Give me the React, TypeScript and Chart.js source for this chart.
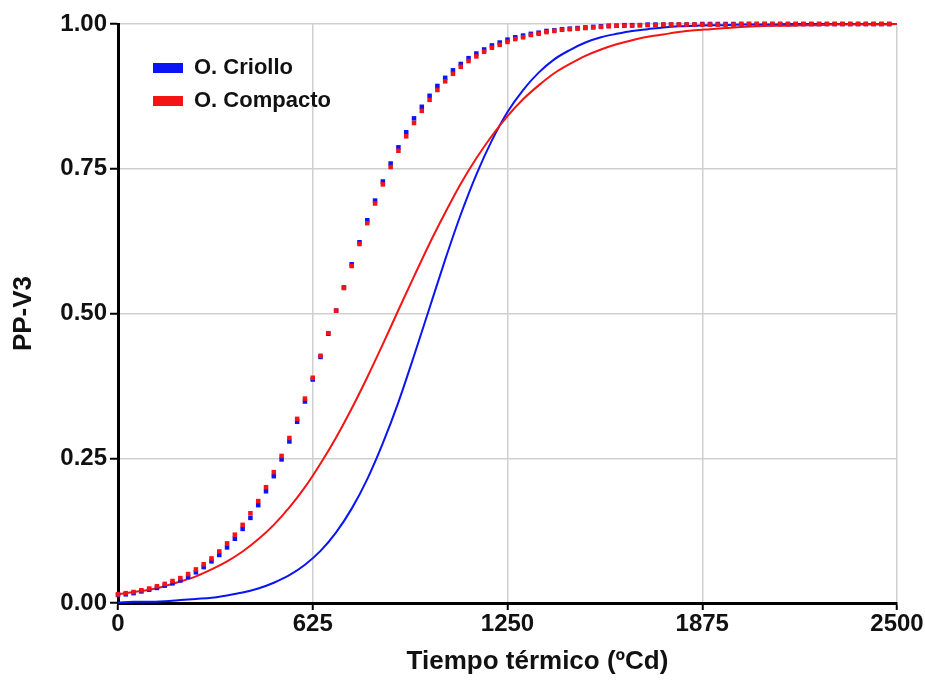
import React, { useEffect, useRef } from "react";
import { Chart, registerables } from "chart.js";

Chart.register(...registerables);

const FONT = '"Liberation Sans", Arial, Helvetica, sans-serif';

// Dotted series (every 25 °Cd)
const dotX = [
  0, 25, 50, 75, 100, 125, 150, 175, 200, 225,
  250, 275, 300, 325, 350, 375, 400, 425, 450, 475,
  500, 525, 550, 575, 600, 625, 650, 675, 700, 725,
  750, 775, 800, 825, 850, 875, 900, 925, 950, 975,
  1000, 1025, 1050, 1075, 1100, 1125, 1150, 1175, 1200, 1225,
  1250, 1275, 1300, 1325, 1350, 1375, 1400, 1425, 1450, 1475,
  1500, 1525, 1550, 1575, 1600, 1625, 1650, 1675, 1700, 1725,
  1750, 1775, 1800, 1825, 1850, 1875, 1900, 1925, 1950, 1975,
  2000, 2025, 2050, 2075, 2100, 2125, 2150, 2175, 2200, 2225,
  2250, 2275, 2300, 2325, 2350, 2375, 2400, 2425, 2450, 2475,
];
const dotRed = [
  0.015, 0.017, 0.019, 0.022, 0.025, 0.029, 0.033, 0.038, 0.043, 0.050,
  0.058, 0.067, 0.077, 0.089, 0.103, 0.118, 0.135, 0.155, 0.176, 0.200,
  0.226, 0.254, 0.285, 0.318, 0.353, 0.389, 0.427, 0.466, 0.505, 0.544,
  0.582, 0.620, 0.656, 0.690, 0.723, 0.753, 0.781, 0.806, 0.829, 0.850,
  0.869, 0.886, 0.901, 0.914, 0.926, 0.936, 0.944, 0.952, 0.959, 0.964,
  0.969, 0.974, 0.977, 0.981, 0.983, 0.986, 0.988, 0.990, 0.991, 0.992,
  0.993, 0.994, 0.995, 0.996, 0.997, 0.997, 0.997, 0.998, 0.998, 0.998,
  0.999, 0.999, 0.999, 0.999, 0.999, 0.999, 0.999, 0.999, 0.999, 0.999,
  1.0, 1.0, 1.0, 1.0, 1.0, 1.0, 1.0, 1.0, 1.0, 1.0,
  1.0, 1.0, 1.0, 1.0, 1.0, 1.0, 1.0, 1.0, 1.0, 1.0,
];
const dotBlue = [
  0.014, 0.015, 0.017, 0.020, 0.023, 0.026, 0.030, 0.034, 0.039, 0.045,
  0.053, 0.062, 0.072, 0.083, 0.096, 0.111, 0.128, 0.147, 0.169, 0.193,
  0.219, 0.248, 0.279, 0.313, 0.348, 0.386, 0.425, 0.465, 0.505, 0.545,
  0.585, 0.623, 0.661, 0.695, 0.728, 0.759, 0.787, 0.813, 0.837, 0.857,
  0.876, 0.893, 0.907, 0.920, 0.931, 0.941, 0.949, 0.956, 0.963, 0.968,
  0.973, 0.977, 0.980, 0.983, 0.985, 0.988, 0.989, 0.991, 0.992, 0.993,
  0.994, 0.995, 0.996, 0.997, 0.997, 0.998, 0.998, 0.998, 0.999, 0.999,
  0.999, 0.999, 0.999, 0.999, 0.999, 1.0, 1.0, 1.0, 1.0, 1.0,
  1.0, 1.0, 1.0, 1.0, 1.0, 1.0, 1.0, 1.0, 1.0, 1.0,
  1.0, 1.0, 1.0, 1.0, 1.0, 1.0, 1.0, 1.0, 1.0, 1.0,
];

// Solid curves (every 50 °Cd)
const solidX = [
  0, 50, 100, 150, 200, 250, 300, 350, 400, 450,
  500, 550, 600, 650, 700, 750, 800, 850, 900, 950,
  1000, 1050, 1100, 1150, 1200, 1250, 1300, 1350, 1400, 1450,
  1500, 1550, 1600, 1650, 1700, 1750, 1800, 1850, 1900, 1950,
  2000, 2050, 2100, 2150, 2200, 2250, 2300, 2350, 2400, 2450, 2500,
];
const criollo = [
  0.001, 0.002, 0.002, 0.003, 0.005, 0.007, 0.009, 0.013, 0.018, 0.025,
  0.035, 0.048, 0.066, 0.090, 0.122, 0.163, 0.214, 0.276, 0.347, 0.427,
  0.510, 0.593, 0.671, 0.740, 0.799, 0.848, 0.886, 0.916, 0.939, 0.955,
  0.968, 0.977, 0.983, 0.988, 0.991, 0.994, 0.996, 0.997, 0.998, 0.998,
  0.999, 0.999, 0.999, 1.0, 1.0, 1.0, 1.0, 1.0, 1.0, 1.0, 1.0,
];
const compacto = [
  0.015, 0.019, 0.023, 0.029, 0.037, 0.046, 0.058, 0.072, 0.089, 0.110,
  0.135, 0.165, 0.200, 0.241, 0.286, 0.336, 0.390, 0.447, 0.506, 0.564,
  0.621, 0.674, 0.724, 0.768, 0.807, 0.841, 0.870, 0.894, 0.915, 0.931,
  0.945, 0.956, 0.965, 0.972, 0.978, 0.982, 0.986, 0.989, 0.991, 0.993,
  0.995, 0.996, 0.997, 0.997, 0.998, 0.998, 0.999, 0.999, 0.999, 0.999, 1.0,
];

const xTicks = [0, 625, 1250, 1875, 2500];
const yTicks = [0, 0.25, 0.5, 0.75, 1.0];

const seriesNames = ["O. Criollo", "O. Compacto"];
const xTitle = "Tiempo térmico (ºCd)";
const yTitle = "PP-V3";

const BLUE = "#0a14f5";
const RED = "#f51414";

const pts = (xs: number[], ys: number[]) => xs.map((x, i) => ({ x, y: ys[i] }));

export default function App() {
  const ref = useRef<HTMLCanvasElement | null>(null);

  useEffect(() => {
    if (!ref.current) return;

    const legendShift = {
      id: "legendShift",
      beforeDraw(chart: any) {
        const lg = chart.legend;
        if (lg) {
          lg.left = chart.chartArea.left + 24;
          lg.top = chart.chartArea.top + 22;
        }
      },
    };

    const xTitlePlugin = {
      id: "xTitlePlugin",
      afterDraw(chart: any) {
        const ctx = chart.ctx;
        const a = chart.chartArea;
        ctx.save();
        ctx.font = `bold 26px ${FONT}`;
        ctx.fillStyle = "#111";
        ctx.textAlign = "center";
        ctx.textBaseline = "middle";
        ctx.fillText(xTitle, (a.left + a.right) / 2 + 30, chart.height - 20);
        ctx.restore();
      },
    };

    const chart = new Chart(ref.current, {
      type: "line",
      data: {
        datasets: [
          {
            label: seriesNames[0],
            data: pts(solidX, criollo),
            borderColor: BLUE,
            backgroundColor: BLUE,
            borderWidth: 2,
            pointRadius: 0,
            cubicInterpolationMode: "monotone",
            order: 3,
            clip: false,
          },
          {
            label: seriesNames[1],
            data: pts(solidX, compacto),
            borderColor: RED,
            backgroundColor: RED,
            borderWidth: 2,
            pointRadius: 0,
            cubicInterpolationMode: "monotone",
            order: 2,
            clip: false,
          },
          {
            label: seriesNames[0] + " (puntos)",
            data: pts(dotX, dotBlue),
            showLine: false,
            pointStyle: "rect",
            pointRadius: 3.2,
            pointBorderWidth: 0,
            pointBackgroundColor: BLUE,
            borderColor: BLUE,
            backgroundColor: BLUE,
            order: 1,
            clip: false,
          },
          {
            label: seriesNames[1] + " (puntos)",
            data: pts(dotX, dotRed),
            showLine: false,
            pointStyle: "rect",
            pointRadius: 3.2,
            pointBorderWidth: 0,
            pointBackgroundColor: RED,
            borderColor: RED,
            backgroundColor: RED,
            order: 0,
            clip: false,
          },
        ] as any,
      },
      options: {
        responsive: false,
        animation: false,
        events: [],
        layout: { padding: { top: 24, right: 28, left: 0, bottom: 0 } },
        scales: {
          x: {
            type: "linear",
            min: 0,
            max: 2500,
            afterBuildTicks: (s: any) => {
              s.ticks = xTicks.map((v) => ({ value: v }));
            },
            afterFit: (s: any) => {
              s.height = 79;
            },
            ticks: {
              color: "#111",
              font: { family: FONT, size: 24, weight: "bold" },
              padding: 0,
              maxRotation: 0,
              autoSkip: false,
              callback: (v: any) => String(v),
            },
            grid: {
              color: "#cfcfcf",
              lineWidth: 1.5,
              tickColor: "#000",
              tickLength: 7,
              tickWidth: 2,
            },
            border: { color: "#000", width: 3 },
          },
          y: {
            type: "linear",
            min: 0,
            max: 1,
            afterBuildTicks: (s: any) => {
              s.ticks = yTicks.map((v) => ({ value: v }));
            },
            afterFit: (s: any) => {
              s.width = 118;
            },
            ticks: {
              color: "#111",
              font: { family: FONT, size: 24, weight: "bold" },
              padding: 3,
              callback: (v: any) => Number(v).toFixed(2),
            },
            grid: {
              color: "#cfcfcf",
              lineWidth: 1.5,
              tickColor: "#000",
              tickLength: 8,
              tickWidth: 2,
            },
            border: { color: "#000", width: 3 },
            title: {
              display: true,
              text: yTitle,
              color: "#111",
              font: { family: FONT, size: 26, weight: "bold" },
              padding: { top: 8, bottom: 0 },
            },
          },
        },
        plugins: {
          tooltip: { enabled: false },
          legend: {
            display: true,
            position: "chartArea",
            align: "start",
            labels: {
              boxWidth: 30,
              boxHeight: 10,
              padding: 11,
              color: "#111",
              font: { family: FONT, size: 22, weight: "bold" },
              generateLabels: (c: any) =>
                Chart.defaults.plugins.legend.labels
                  .generateLabels(c)
                  .filter((l: any) => l.datasetIndex < 2)
                  .map((l: any) => ({ ...l, lineWidth: 0 })),
              sort: (a: any, b: any) => a.datasetIndex - b.datasetIndex,
            },
          },
        },
      } as any,
      plugins: [legendShift, xTitlePlugin],
    });

    return () => chart.destroy();
  }, []);

  return (
    <div style={{ position: "absolute", left: 0, top: 0, width: 925, height: 682, background: "#fff" }}>
      <canvas ref={ref} width={925} height={682} style={{ display: "block" }} />
    </div>
  );
}
